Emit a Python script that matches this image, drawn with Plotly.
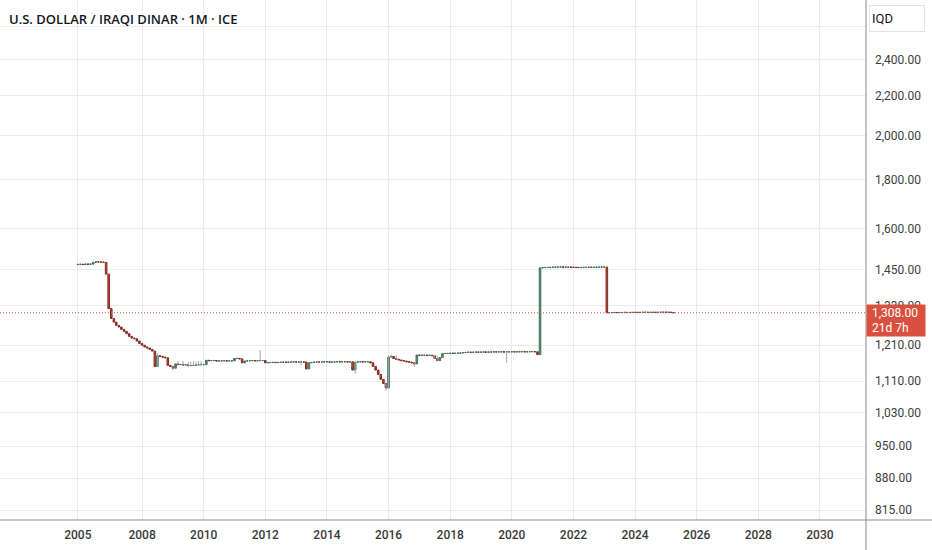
import math
import pandas as pd
import plotly.graph_objects as go

# USD/IQD monthly closes (ICE), one list per year
close_2005 = [1469]
close_2006 = [1469.3, 1468.5, 1470, 1469.5, 1470, 1476, 1478, 1477.5, 1477, 1476, 1435, 1321]
close_2007 = [1290, 1279, 1269, 1264, 1257, 1251, 1244, 1236, 1231, 1229, 1222, 1215]
close_2008 = [1210, 1205, 1202, 1198, 1193, 1150, 1180, 1178, 1176, 1174, 1153, 1150]
close_2009 = [1145, 1157, 1155, 1155.5, 1154, 1154.5, 1152, 1152.5, 1153, 1154, 1154.5, 1155]
close_2010 = [1155, 1167, 1166, 1166.3, 1166.6, 1165, 1165.3, 1165.6, 1166, 1165, 1165.3, 1165.6]
close_2011 = [1172, 1172.3, 1171, 1160, 1165, 1165.5, 1166, 1166.3, 1165.5, 1166, 1166.3, 1166.6]
close_2012 = [1160, 1160.5, 1161, 1161.3, 1160.5, 1161, 1161.5, 1162, 1161.5, 1162, 1162.3, 1162.6]
close_2013 = [1162, 1162.3, 1162.6, 1162, 1143, 1160, 1161, 1162, 1162.3, 1162, 1162.3, 1162.6]
close_2014 = [1162.8, 1162, 1162.3, 1162.6, 1163, 1162.5, 1162.8, 1163, 1162.5, 1162.8, 1140, 1162]
close_2015 = [1162.5, 1163, 1162.5, 1162.8, 1163, 1160, 1150, 1140, 1128, 1115, 1104, 1092]
close_2016 = [1176, 1178, 1172, 1170, 1168, 1166, 1165, 1163, 1162, 1160, 1157, 1182]
close_2017 = [1181, 1181.3, 1181.6, 1181, 1181.3, 1180, 1172, 1166, 1175, 1186, 1186.3, 1186.6]
close_2018 = [1187, 1186.5, 1187, 1187.3, 1187.6, 1189, 1189.3, 1190, 1189.5, 1190, 1190.3, 1190]
close_2019 = [1190.3, 1190.6, 1190, 1190.3, 1190.6, 1190.9, 1190.5, 1190.8, 1191, 1190.5, 1190.8, 1191]
close_2020 = [1191.2, 1190.8, 1191, 1191.2, 1191.4, 1191, 1191.2, 1191.4, 1191.6, 1191.2, 1183, 1457]
close_2021 = [1457.5, 1458, 1458.3, 1458.6, 1459, 1459.3, 1459.6, 1460, 1459, 1459.3, 1459.6, 1459]
close_2022 = [1458.6, 1458.2, 1457.8, 1458.2, 1458.5, 1458.8, 1459, 1458.5, 1458.8, 1459, 1459.2, 1459.4]
close_2023 = [1459.6, 1308, 1308.3, 1308.6, 1309, 1308.5, 1308.8, 1309, 1309.2, 1308.8, 1309, 1309.2]
close_2024 = [1309.4, 1309, 1309.2, 1309.4, 1309.6, 1309.2, 1309.4, 1309.6, 1309.2, 1309.4, 1309.6, 1309.8]
close_2025 = [1309.4, 1309.6, 1309, 1308]
first_open = 1468

# visible wicks (None = no wick on that side)
wick_months = ["2008-07", "2009-01", "2009-03", "2009-05", "2009-07", "2009-08",
               "2009-09", "2009-10", "2009-11", "2009-12", "2011-11", "2013-03",
               "2014-12", "2015-12", "2016-01", "2016-02", "2016-04", "2016-11",
               "2017-07", "2017-08", "2019-11"]
wick_highs = [1186, None, 1164, 1165, 1163, 1164,
              1165, 1164, 1165, 1164, 1196, None,
              None, None, 1182, 1183, 1181, None,
              1182, 1180, None]
wick_lows = [None, 1140, None, None, None, None,
             None, None, None, None, None, 1153,
             1130, 1085, None, None, None, 1150,
             None, None, 1160]

x_ticks = ["2005-12-01", "2008-01-01", "2010-01-01", "2012-01-01", "2014-01-01",
           "2016-01-01", "2018-01-01", "2020-01-01", "2022-01-01", "2024-01-01",
           "2026-01-01", "2028-01-01", "2030-01-01"]
x_labels = ["2005", "2008", "2010", "2012", "2014", "2016", "2018", "2020",
            "2022", "2024", "2026", "2028", "2030"]
y_ticks = [815, 880, 950, 1030, 1110, 1210, 1330, 1450, 1600, 1800, 2000, 2200, 2400, 2600]
y_hidden = [2600]  # sits under the currency box, gridline only

last_price = 1308
countdown = "21d 7h"
title = "U.S. DOLLAR / IRAQI DINAR · 1M · ICE"
currency = "IQD"

INC_FILL, INC_LINE = "#5b9274", "#3f7358"
DEC_FILL, DEC_LINE = "#d04a33", "#802c1f"
GRID = "#ececec"
AXIS = "#8a8a8a"
PRICE_RED = "#d9503e"

closes = (close_2005 + close_2006 + close_2007 + close_2008 + close_2009 + close_2010
          + close_2011 + close_2012 + close_2013 + close_2014 + close_2015 + close_2016
          + close_2017 + close_2018 + close_2019 + close_2020 + close_2021 + close_2022
          + close_2023 + close_2024 + close_2025)
months = pd.date_range("2005-12-01", periods=len(closes), freq="MS")
opens = [first_open] + closes[:-1]
tops = [max(o, c) for o, c in zip(opens, closes)]
bottoms = [min(o, c) for o, c in zip(opens, closes)]

month_keys = list(months.strftime("%Y-%m"))
wx, wy = [], []
for m, hi, lo in zip(wick_months, wick_highs, wick_lows):
    i = month_keys.index(m)
    wx += [months[i], months[i], None]
    wy += [lo if lo is not None else bottoms[i], hi if hi is not None else tops[i], None]

y_text = ["" if v in y_hidden else f"{v:,.2f}" for v in y_ticks]

fig = go.Figure()

fig.add_trace(go.Scatter(
    x=wx, y=wy, mode="lines",
    line=dict(color="#a3a3a3", width=1),
    hoverinfo="skip", showlegend=False
))

fig.add_trace(go.Candlestick(
    x=months, open=opens, high=tops, low=bottoms, close=closes,
    increasing=dict(fillcolor=INC_FILL, line=dict(color=INC_LINE, width=1)),
    decreasing=dict(fillcolor=DEC_FILL, line=dict(color=DEC_LINE, width=1)),
    whiskerwidth=0, hoverinfo="skip", showlegend=False
))

fig.update_layout(
    width=932, height=550,
    margin=dict(l=0, r=66, t=0, b=30),
    plot_bgcolor="white", paper_bgcolor="white",
    showlegend=False,
    boxgap=0.05,
    xaxis=dict(
        type="date", range=["2003-05-23", "2031-07-01"],
        tickvals=x_ticks, ticktext=x_labels,
        showgrid=True, gridcolor=GRID, gridwidth=1,
        zeroline=False, showline=False, ticks="",
        tickfont=dict(family="Roboto", size=12, color="#3a3a3a", weight=500),
        ticklabelstandoff=6,
        rangeslider=dict(visible=False), fixedrange=True
    ),
    yaxis=dict(
        type="log", side="right", range=[2.90075, 3.44235],
        tickvals=y_ticks, ticktext=y_text,
        showgrid=True, gridcolor=GRID, gridwidth=1,
        zeroline=False, showline=False, ticks="",
        tickfont=dict(family="Roboto", size=12, color="#3d3d3d"),
        ticklabelstandoff=8, fixedrange=True
    ),
    shapes=[
        # current price line
        dict(type="line", xref="paper", x0=0, x1=1, yref="y", y0=last_price, y1=last_price,
             line=dict(color=PRICE_RED, width=1, dash="1px,2px")),
        # time axis border, runs under the price scale too
        dict(type="line", xref="paper", x0=0, x1=932 / 866, yref="paper", y0=0, y1=0,
             line=dict(color=AXIS, width=1)),
        # price scale border
        dict(type="line", xref="paper", x0=1, x1=1, yref="paper", y0=-30 / 520, y1=1,
             line=dict(color=AXIS, width=1)),
    ],
    annotations=[
        dict(text=title, xref="paper", yref="paper", x=0, y=1, xanchor="left", yanchor="top",
             xshift=7, yshift=-8, showarrow=False,
             font=dict(family="Open Sans", size=13, color="#131722", weight=600)),
        dict(text=currency, xref="paper", yref="paper", x=1, y=1, xanchor="left", yanchor="top",
             xshift=3, yshift=-5, showarrow=False, align="left",
             width=50, height=21, borderpad=2, borderwidth=1,
             bordercolor="#e0e3eb", bgcolor="white",
             font=dict(family="Roboto", size=13, color="#131722")),
        dict(text="\u00a0" + f"{last_price:,.2f}" + "<br>\u00a0" + countdown,
             xref="paper", yref="y", x=1, y=math.log10(last_price),
             xanchor="left", yanchor="top", yshift=9, showarrow=False, align="left",
             width=54, height=27, borderpad=2, bgcolor=PRICE_RED,
             font=dict(family="Roboto", size=12, color="white")),
    ],
)

# the page is photographed at exactly 932x550, so drop the default body margin
fig.write_html("out.html", config={"displayModeBar": False},
               post_script="document.body.style.margin = '0';")
